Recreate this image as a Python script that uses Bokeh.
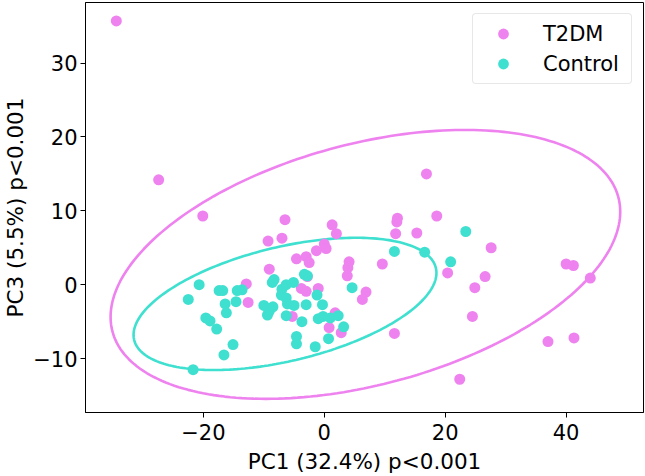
import numpy as np
from bokeh.plotting import figure
from bokeh.models import FixedTicker, Legend, LegendItem
from bokeh.embed import file_html
from bokeh.resources import INLINE

# PCA scores (PC1, PC3) per group
t2dm_pc1 = [-34.4, -27.4, -20.1, -6.5, 1.3, 2.0, 16.9, 12.1, 12.0, 18.6, 11.8, 15.3,
            -9.3, -7.0, -1.3, 0.0, 0.3, -4.6, -3.0, -2.5, -9.1, -12.9, -12.6, -3.8,
            -3.0, -1.0, -5.3, 0.8, 2.8, 1.8, 4.1, 3.9, 3.8, 9.6, 6.9, 6.3, 11.6,
            20.4, 27.6, 26.6, 24.9, 24.5, 40.0, 41.2, 44.0, 37.0, 41.3, 22.4, -2.8]
t2dm_pc3 = [35.7, 14.2, 9.3, 8.8, 8.1, 6.9, 15.0, 9.0, 8.5, 9.3, 6.9, 7.0,
            5.9, 6.3, 4.6, 5.5, 4.9, 3.5, 3.8, 3.0, 2.1, 0.1, -2.4, -0.5,
            -0.9, -0.5, -4.3, -5.8, -6.5, -3.8, 3.1, 2.3, 1.2, 2.8, -1.0, -2.0, -6.6,
            1.6, 5.0, 1.1, -0.4, -4.3, 2.8, 2.6, 0.9, -7.7, -7.2, -12.8, 1.1]

ctrl_pc1 = [-20.7, -22.5, -17.4, -16.8, -14.4, -13.6, -16.4, -14.6, -16.2, -19.6,
            -18.9, -17.8, -15.1, -16.6, -21.7, -10.0, -9.1, -8.5, -9.4, -8.3, -8.6,
            -6.3, -5.1, -7.1, -6.3, -6.1, -5.0, -6.3, -3.7, -3.0, -3.3, -2.8, -1.2,
            -0.3, -1.0, -0.2, -4.6, -4.6, -1.5, 0.7, 1.0, 2.3, 3.2, 4.6, 11.6, 16.6,
            20.9, 23.4, -7.0]
ctrl_pc3 = [0.0, -2.0, -0.8, -0.8, -0.8, -0.7, -2.6, -2.3, -3.8, -4.5,
            -4.9, -6.0, -8.1, -9.5, -11.5, -2.8, -3.6, -3.0, -4.1, 0.7, 0.3,
            0.0, 0.3, -1.4, -1.8, -2.6, -2.8, -4.2, -5.0, -2.7, 1.4, 1.2, -1.4,
            -2.7, -4.6, -4.3, -7.0, -8.0, -8.4, -7.3, -4.5, -4.2, -5.7, -0.4, 4.5, 4.4,
            3.1, 7.2, -0.6]

# Confidence ellipses: centre, half-extent along PC1 / PC3, and cross term
t2dm_ellipse = {"cx": 6.8, "cy": 2.75, "ex": 42.15, "ey": 18.2, "exy": 300.0}
ctrl_ellipse = {"cx": -6.5, "cy": -2.6, "ex": 25.05, "ey": 8.95, "exy": 105.0}

x_ticks = [-20, 0, 20, 40]
y_ticks = [-10, 0, 10, 20, 30]

T2DM_COLOR = "#EE82EE"
CTRL_COLOR = "#40E0D0"
FONT = "DejaVu Sans"


def ellipse_curve(e, n=240):
    sxx, syy, sxy = e["ex"] ** 2, e["ey"] ** 2, e["exy"]
    l11 = np.sqrt(sxx)
    l21 = sxy / l11
    l22 = np.sqrt(syy - l21 ** 2)
    t = np.linspace(0, 2 * np.pi, n)
    xs = e["cx"] + l11 * np.cos(t)
    ys = e["cy"] + l21 * np.cos(t) + l22 * np.sin(t)
    return xs, ys


p = figure(width=645, height=476, x_range=(-39.5, 52.8), y_range=(-17.3, 38.2),
           output_backend="svg", toolbar_location=None,
           min_border_left=0, min_border_right=2, min_border_top=2, min_border_bottom=0)

p.xgrid.visible = False
p.ygrid.visible = False
p.background_fill_color = "white"
p.border_fill_color = "white"
p.outline_line_color = "black"
p.outline_line_width = 1

for ax, ticks in ((p.xaxis[0], x_ticks), (p.yaxis[0], y_ticks)):
    ax.ticker = FixedTicker(ticks=ticks)
    ax.major_label_overrides = {t: (str(t).replace("-", "\u2212")) for t in ticks}
    ax.minor_tick_line_color = None
    ax.major_tick_in = 0
    ax.major_tick_out = 5
    ax.major_tick_line_color = "black"
    ax.axis_line_color = "black"
    ax.major_label_text_font = FONT
    ax.major_label_text_font_size = "21px"
    ax.major_label_text_color = "black"
    ax.axis_label_text_font = FONT
    ax.axis_label_text_font_size = "21.5px"
    ax.axis_label_text_font_style = "normal"
    ax.axis_label_text_color = "black"

p.xaxis.axis_label = "PC1 (32.4%) p<0.001"
p.yaxis.axis_label = "PC3 (5.5%) p<0.001"
p.xaxis.major_label_standoff = 6
p.xaxis.axis_label_standoff = 6
p.yaxis.major_label_standoff = 3
p.yaxis.axis_label_standoff = 2

# ellipses
for e, col in ((t2dm_ellipse, T2DM_COLOR), (ctrl_ellipse, CTRL_COLOR)):
    xs, ys = ellipse_curve(e)
    p.line(xs, ys, line_color=col, line_width=2.6)

r_t2dm = p.scatter(t2dm_pc1, t2dm_pc3, size=11, fill_color=T2DM_COLOR, line_color=None)
r_ctrl = p.scatter(ctrl_pc1, ctrl_pc3, size=11, fill_color=CTRL_COLOR, line_color=None)

legend = Legend(items=[LegendItem(label="T2DM", renderers=[r_t2dm]),
                       LegendItem(label="Control", renderers=[r_ctrl])],
                location="top_right")
legend.margin = 11
legend.padding = 6
legend.glyph_width = 48
legend.glyph_height = 27
legend.spacing = 3
legend.label_standoff = 16
legend.label_width = 82
legend.label_text_font = FONT
legend.label_text_font_size = "21px"
legend.label_text_color = "black"
legend.border_line_color = "#d0d0d0"
legend.border_line_width = 1
legend.background_fill_color = "white"
legend.background_fill_alpha = 0.8
if "border_radius" in Legend.properties():
    legend.border_radius = 4
p.add_layout(legend)

open("out.html", "w").write(file_html(p, INLINE))
